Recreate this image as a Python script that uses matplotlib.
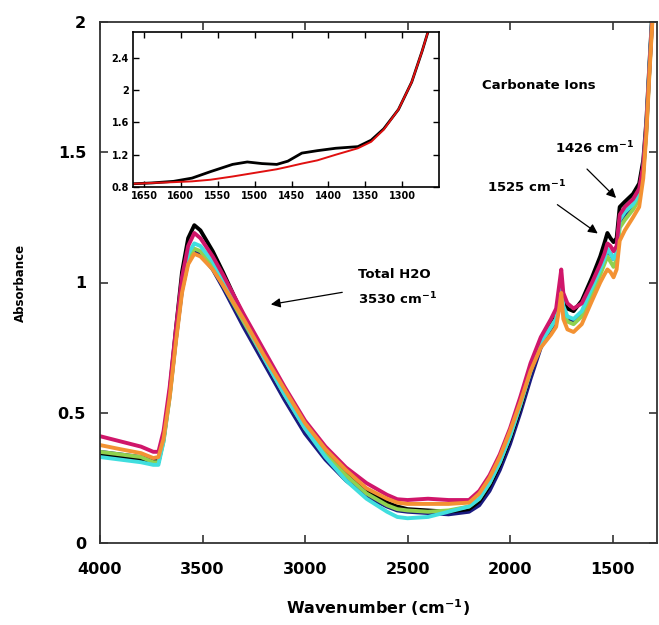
import matplotlib
matplotlib.use("Agg")
import matplotlib.pyplot as plt

plt.rcParams['font.family'] = ['DejaVu Sans']
plt.rcParams['font.weight'] = 'bold'
plt.rcParams['mathtext.default'] = 'bf'

# main spectra (wavenumber grid shared by all samples)
wn = [4000, 3900, 3800, 3740, 3715, 3690, 3660, 3630, 3600, 3570,
      3540, 3510, 3450, 3400, 3300, 3200, 3100, 3000, 2900, 2800,
      2700, 2600, 2550, 2500, 2400, 2300, 2200, 2150, 2100, 2050,
      2000, 1950, 1900, 1850, 1800, 1775, 1760, 1750, 1740, 1720,
      1690, 1650, 1600, 1560, 1540, 1525, 1510, 1495, 1480, 1465,
      1440, 1400, 1370, 1350, 1335, 1320, 1310, 1300]

abs_navy = [0.35, 0.34, 0.33, 0.32, 0.32, 0.40, 0.57, 0.78, 0.97, 1.08,
            1.12, 1.11, 1.05, 0.98, 0.83, 0.69, 0.55, 0.42, 0.32, 0.24,
            0.18, 0.14, 0.125, 0.12, 0.115, 0.11, 0.12, 0.145, 0.20, 0.28,
            0.38, 0.50, 0.63, 0.75, 0.82, 0.85, 0.92, 0.96, 0.90, 0.86,
            0.85, 0.88, 0.97, 1.04, 1.09, 1.12, 1.11, 1.09, 1.11, 1.23,
            1.26, 1.29, 1.33, 1.43, 1.59, 1.82, 1.96, 2.10]
abs_black = [0.34, 0.33, 0.32, 0.31, 0.31, 0.40, 0.58, 0.82, 1.04, 1.17,
             1.22, 1.20, 1.12, 1.04, 0.87, 0.72, 0.58, 0.45, 0.35, 0.27,
             0.20, 0.155, 0.14, 0.13, 0.125, 0.12, 0.13, 0.16, 0.22, 0.30,
             0.40, 0.52, 0.66, 0.77, 0.84, 0.87, 0.94, 0.99, 0.93, 0.90,
             0.89, 0.93, 1.02, 1.10, 1.15, 1.19, 1.17, 1.155, 1.17, 1.29,
             1.31, 1.34, 1.38, 1.47, 1.62, 1.84, 1.98, 2.12]
abs_green = [0.35, 0.34, 0.33, 0.31, 0.31, 0.39, 0.56, 0.78, 0.98, 1.09,
             1.13, 1.12, 1.06, 0.99, 0.85, 0.71, 0.57, 0.44, 0.34, 0.26,
             0.19, 0.145, 0.13, 0.125, 0.12, 0.125, 0.14, 0.17, 0.23, 0.31,
             0.41, 0.53, 0.66, 0.77, 0.83, 0.86, 0.93, 0.97, 0.89, 0.85,
             0.84, 0.87, 0.96, 1.03, 1.07, 1.10, 1.08, 1.06, 1.09, 1.21,
             1.24, 1.28, 1.32, 1.42, 1.58, 1.81, 1.95, 2.09]
abs_cyan = [0.33, 0.32, 0.31, 0.30, 0.30, 0.39, 0.57, 0.80, 1.00, 1.11,
            1.15, 1.14, 1.08, 1.01, 0.86, 0.71, 0.57, 0.44, 0.33, 0.24,
            0.17, 0.12, 0.10, 0.095, 0.10, 0.12, 0.14, 0.17, 0.23, 0.31,
            0.41, 0.53, 0.66, 0.77, 0.83, 0.86, 0.94, 0.98, 0.91, 0.87,
            0.86, 0.89, 0.98, 1.05, 1.09, 1.13, 1.11, 1.09, 1.12, 1.24,
            1.27, 1.30, 1.34, 1.44, 1.60, 1.83, 1.97, 2.11]
abs_magenta = [0.41, 0.39, 0.37, 0.35, 0.35, 0.43, 0.60, 0.82, 1.02, 1.14,
               1.19, 1.17, 1.10, 1.03, 0.88, 0.74, 0.60, 0.47, 0.37, 0.29,
               0.23, 0.185, 0.168, 0.165, 0.17, 0.165, 0.165, 0.20, 0.26, 0.34,
               0.44, 0.56, 0.69, 0.79, 0.86, 0.90, 0.99, 1.05, 0.96, 0.92,
               0.90, 0.92, 1.00, 1.07, 1.11, 1.15, 1.14, 1.12, 1.14, 1.26,
               1.29, 1.32, 1.36, 1.45, 1.60, 1.82, 1.96, 2.10]
abs_orange = [0.376, 0.36, 0.345, 0.326, 0.33, 0.40, 0.56, 0.77, 0.96, 1.07,
              1.11, 1.10, 1.05, 0.99, 0.86, 0.72, 0.59, 0.46, 0.36, 0.28,
              0.21, 0.17, 0.155, 0.15, 0.15, 0.15, 0.155, 0.19, 0.25, 0.33,
              0.43, 0.54, 0.66, 0.75, 0.80, 0.83, 0.90, 0.96, 0.86, 0.82,
              0.81, 0.84, 0.93, 1.00, 1.03, 1.05, 1.04, 1.02, 1.05, 1.16,
              1.20, 1.25, 1.29, 1.40, 1.57, 1.80, 1.94, 2.08]

series = [(abs_navy, '#1a1a80'), (abs_black, '#000000'), (abs_green, '#8fd14f'),
          (abs_cyan, '#40dede'), (abs_magenta, '#d0166a'), (abs_orange, '#f39233')]

# inset: zoom of the carbonate region, sample vs baseline
wn_in = [1665, 1640, 1610, 1585, 1560, 1530, 1510, 1490, 1470, 1455,
         1436, 1415, 1390, 1360, 1342, 1325, 1305, 1287, 1273, 1264]
black_in = [0.84, 0.85, 0.87, 0.91, 0.99, 1.08, 1.11, 1.09, 1.08, 1.12,
            1.22, 1.25, 1.28, 1.30, 1.38, 1.52, 1.76, 2.10, 2.48, 2.75]
red_in = [0.84, 0.85, 0.86, 0.87, 0.89, 0.93, 0.96, 0.99, 1.02, 1.05,
          1.09, 1.13, 1.20, 1.28, 1.36, 1.51, 1.76, 2.10, 2.48, 2.75]

fig = plt.figure(figsize=(6.59, 6.25), dpi=100)
ax = fig.add_axes([100/659, 82/625, 557/659, 521/625])

for vals, col in series:
    ax.plot(wn, vals, color=col, lw=2.8, solid_joinstyle='round')

ax.set_xlim(4000, 1283)
ax.set_ylim(0, 2)
ax.set_xticks([4000, 3500, 3000, 2500, 2000, 1500])
ax.set_yticks([0, 0.5, 1, 1.5, 2])
ax.set_yticklabels(['0', '0.5', '1', '1.5', '2'])
ax.tick_params(direction='in', length=6, width=1.2, top=True, right=True,
               labelsize=11.5, colors='#333333', labelcolor='black')
ax.tick_params(axis='x', pad=14)
ax.tick_params(axis='y', pad=10)
for sp in ax.spines.values():
    sp.set_linewidth(1.3)
    sp.set_color('#333333')
ax.set_xlabel('Wavenumber (cm$^{-1}$)', fontsize=11.5, fontweight='bold', labelpad=14)
ax.set_ylabel('Absorbance', fontsize=8.5, fontweight='bold', labelpad=22)

ax.text(2742, 1.03, 'Total H2O', fontsize=9.5, fontweight='bold', va='center')
ax.text(2742, 0.935, '3530 cm$^{-1}$', fontsize=9.5, fontweight='bold', va='center')
ax.annotate('', xy=(3180, 0.914), xytext=(2805, 0.964),
            arrowprops=dict(arrowstyle='-|>', color='black', lw=0.9, mutation_scale=14))

ax.text(2137, 1.758, 'Carbonate Ions', fontsize=9.5, fontweight='bold', va='center')
ax.text(2112, 1.367, '1525 cm$^{-1}$', fontsize=9.5, fontweight='bold', va='center')
ax.annotate('', xy=(1561, 1.182), xytext=(1780, 1.305),
            arrowprops=dict(arrowstyle='-|>', color='black', lw=0.9, mutation_scale=14))
ax.text(1780, 1.516, '1426 cm$^{-1}$', fontsize=9.5, fontweight='bold', va='center')
ax.annotate('', xy=(1473, 1.317), xytext=(1634, 1.443),
            arrowprops=dict(arrowstyle='-|>', color='black', lw=0.9, mutation_scale=14))

ins = fig.add_axes([133/659, 438/625, 306/659, 155/625])
ins.plot(wn_in, black_in, color='black', lw=2.0)
ins.plot(wn_in, red_in, color='#e01010', lw=1.4)
ins.set_xlim(1665, 1250)
ins.set_ylim(0.8, 2.72)
ins.set_xticks([1650, 1600, 1550, 1500, 1450, 1400, 1350, 1300])
ins.set_yticks([0.8, 1.2, 1.6, 2, 2.4])
ins.set_yticklabels(['0.8', '1.2', '1.6', '2', '2.4'])
ins.tick_params(direction='in', length=4, width=1, top=True, right=True,
                labelsize=7, pad=3)
for sp in ins.spines.values():
    sp.set_linewidth(1.2)

fig.savefig('out.png', dpi=100)
